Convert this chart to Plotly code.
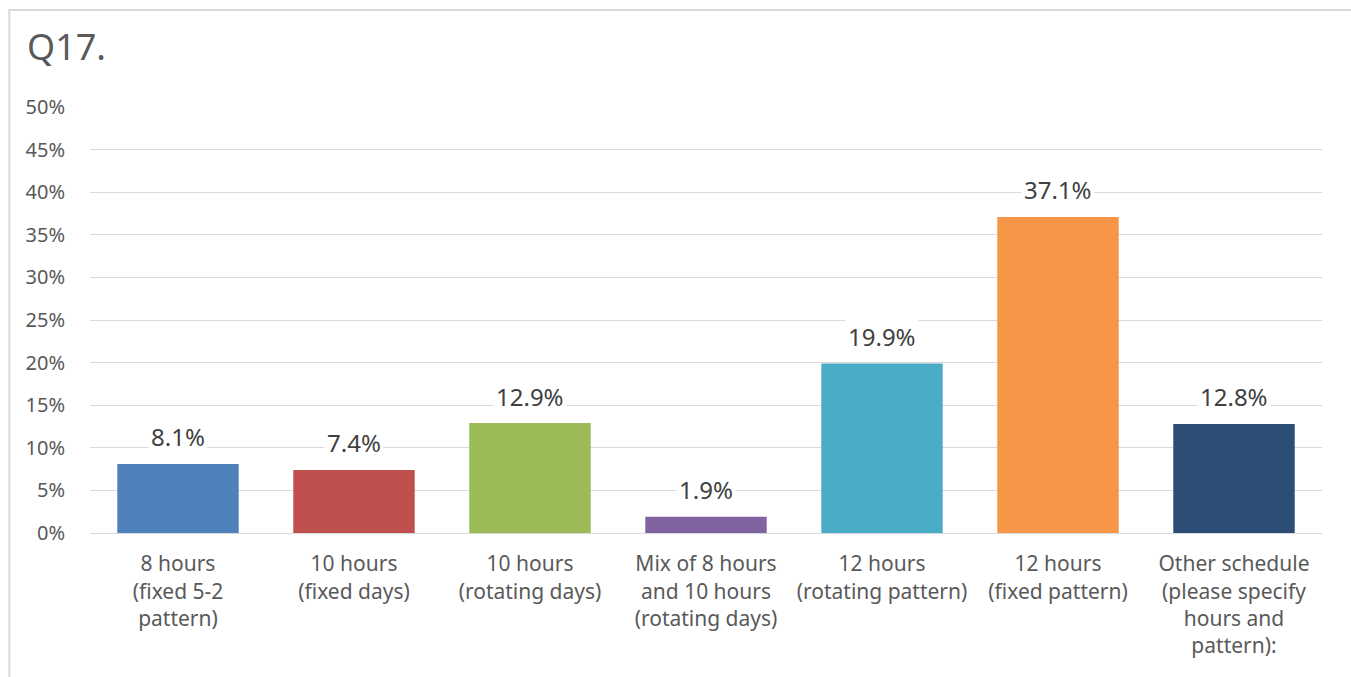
import plotly.graph_objects as go

categories = [
    "8 hours<br>(fixed 5-2<br>pattern)",
    "10 hours<br>(fixed days)",
    "10 hours<br>(rotating days)",
    "Mix of 8 hours<br>and 10 hours<br>(rotating days)",
    "12 hours<br>(rotating pattern)",
    "12 hours<br>(fixed pattern)",
    "Other schedule<br>(please specify<br>hours and<br>pattern):",
]
values = [8.1, 7.4, 12.9, 1.9, 19.9, 37.1, 12.8]
colors = ["#4F81BD", "#C0504D", "#9BBB59", "#8064A2", "#4BACC6", "#F79646", "#2C4D75"]
tick_vals = [0, 5, 10, 15, 20, 25, 30, 35, 40, 45, 50]
tick_text = [f"{v}%" for v in tick_vals]

FONT = "Noto Sans, Open Sans, sans-serif"
fig = go.Figure(go.Bar(x=categories, y=values, marker_color=colors, marker_line_width=0))

for c, v in zip(categories, values):
    fig.add_annotation(x=c, y=v, text=f"{v:.1f}%", showarrow=False, yanchor="middle", yshift=27,
                       bgcolor="white", borderpad=2,
                       font=dict(family=FONT, size=24, color="#404040"))

fig.add_shape(type="rect", xref="paper", yref="paper", x0=-0.0655, x1=1.1, y0=-0.5, y1=1.2277,
              line=dict(color="#D9D9D9", width=2), fillcolor="rgba(0,0,0,0)", layer="below")

fig.update_layout(
    width=1351, height=677,
    margin=dict(l=90, r=29, t=107, b=144),
    paper_bgcolor="white", plot_bgcolor="white",
    bargap=0.31,
    showlegend=False,
    title=dict(text="Q17.", x=0.02, xanchor="left", y=0.93, yanchor="middle",
               font=dict(family=FONT, size=36, color="#595959")),
    xaxis=dict(showgrid=False, showline=True, linecolor="#D9D9D9", linewidth=1, ticks="",
               ticklabelstandoff=12,
               tickfont=dict(family=FONT, size=21, color="#595959")),
    yaxis=dict(range=[0, 50], tickvals=tick_vals, ticktext=tick_text, showgrid=True,
               gridcolor="#D9D9D9", gridwidth=1, zeroline=False, showline=False,
               ticklen=0, ticks="", ticklabelstandoff=24,
               tickfont=dict(family=FONT, size=20, color="#595959")),
)
fig.write_html("out.html", config={"displayModeBar": False},
               post_script="document.body.style.margin='0';document.body.style.overflow='hidden';")
